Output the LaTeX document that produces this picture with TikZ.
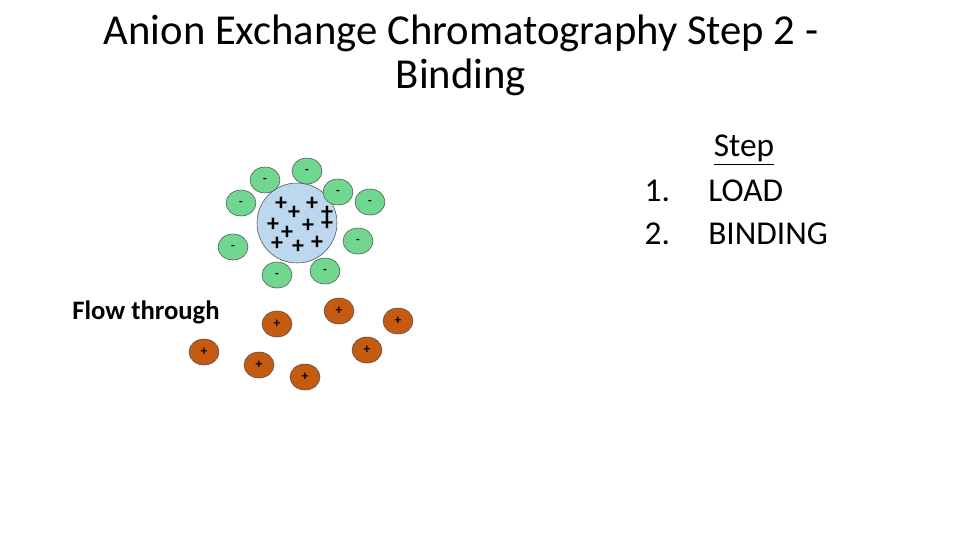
\documentclass[tikz,border=0pt]{standalone}
\usepackage{fontspec}
\setmainfont{Carlito}
\usetikzlibrary{shapes.geometric}
\begin{document}
\begin{tikzpicture}[x=0.75pt,y=-0.75pt,
 neg/.style={ellipse,draw=black!70,fill={rgb,255:red,112;green,214;blue,144},minimum width=30*0.75pt,minimum height=26*0.75pt,inner sep=0pt,font=\fontsize{9}{9}\selectfont\bfseries},
 posion/.style={ellipse,draw=black!70,fill={rgb,255:red,197;green,90;blue,17},minimum width=30*0.75pt,minimum height=26*0.75pt,inner sep=0pt,font=\fontsize{10}{10}\selectfont\bfseries},
 pl/.style={inner sep=0pt,font=\fontsize{18}{18}\selectfont\bfseries}]
\useasboundingbox (0,0) rectangle (960,540);
\node (t1) at (461,33) {\fontsize{32}{34}\selectfont Anion Exchange Chromatography Step 2 -};
\node (t2) at (461,77) {\fontsize{32}{34}\selectfont Binding};
\node (s0) at (744,150) {\fontsize{25}{28}\selectfont\underline{Step}};
\node[anchor=west] (s1) at (640,191) {\fontsize{25}{28}\selectfont 1.\hspace{1.15em}LOAD};
\node[anchor=west] (s2) at (640,234) {\fontsize{25}{28}\selectfont 2.\hspace{1.15em}BINDING};
\node (ft) at (146,312) {\fontsize{20}{22}\selectfont\bfseries Flow through};
\node[circle,draw=black!70,fill={rgb,255:red,189;green,215;blue,238},minimum size=80*0.75pt] (bead) at (297,223) {};
\foreach \p/\q [count=\i] in {281/204,294/213,312/204,327/213,273/225,287/233,308/226,327/224,277/244,298/247,317/243}
  \node[pl] (p\i) at (\p,\q) {+};
\foreach \p/\q [count=\i] in {307/171,265/180,241/203,338/192,370/202,233/247,358/241,277/275,325/271}
  \node[neg] (n\i) at (\p,\q) {-};
\foreach \p/\q [count=\i] in {339/311,398/321,277/324,204/352,367/350,259/365,305/377}
  \node[posion] (c\i) at (\p,\q) {+};
\end{tikzpicture}
\end{document}
